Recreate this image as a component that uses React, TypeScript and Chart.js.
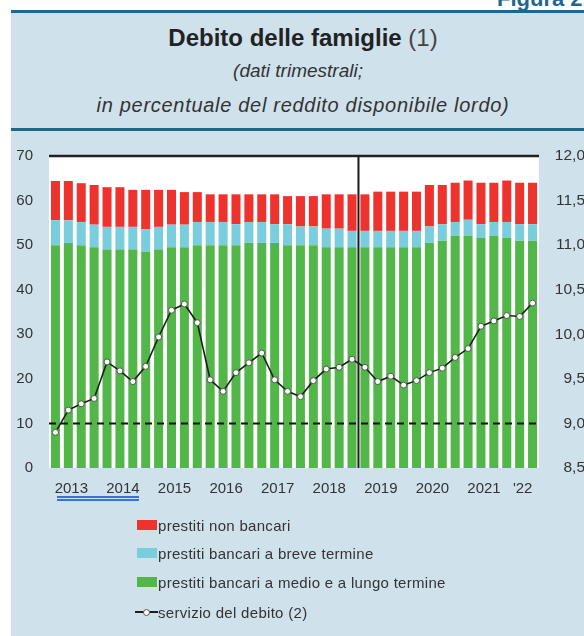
import React, { useEffect, useRef } from 'react';
import { Chart, registerables } from 'chart.js';

Chart.register(...registerables);

// ---------- DATA ----------
const quarters = [
  '2013 T1', '2013 T2', '2013 T3', '2013 T4',
  '2014 T1', '2014 T2', '2014 T3', '2014 T4',
  '2015 T1', '2015 T2', '2015 T3', '2015 T4',
  '2016 T1', '2016 T2', '2016 T3', '2016 T4',
  '2017 T1', '2017 T2', '2017 T3', '2017 T4',
  '2018 T1', '2018 T2', '2018 T3', '2018 T4',
  '2019 T1', '2019 T2', '2019 T3', '2019 T4',
  '2020 T1', '2020 T2', '2020 T3', '2020 T4',
  '2021 T1', '2021 T2', '2021 T3', '2021 T4',
  '2022 T1', '2022 T2',
];

// index of the quarter under which each year label is written
const yearTickIndex = [1, 5, 9, 13, 17, 21, 25, 29, 33, 36];
const yearTickLabels = ['2013', '2014', '2015', '2016', '2017', '2018', '2019', '2020', '2021', "'22"];

// prestiti bancari a medio e a lungo termine
const longTermBankLoans = [
  50.0, 50.5, 50.0, 49.5, 49.0, 49.0, 49.0, 48.5, 49.0, 49.5,
  49.5, 50.0, 50.0, 50.0, 50.0, 50.5, 50.5, 50.5, 50.0, 50.0,
  50.0, 49.5, 49.5, 49.5, 49.5, 49.5, 49.5, 49.5, 49.5, 50.5,
  51.0, 52.1, 52.1, 51.6, 52.1, 51.6, 51.0, 51.0,
];
// prestiti bancari a breve termine
const shortTermBankLoans = [
  5.6, 5.1, 5.2, 5.1, 5.1, 5.1, 5.1, 5.1, 5.1, 5.1,
  5.1, 5.2, 5.2, 5.2, 4.7, 4.7, 4.7, 4.2, 4.7, 4.2,
  4.2, 4.2, 4.2, 3.7, 3.7, 3.7, 3.7, 3.7, 3.7, 3.7,
  3.7, 3.1, 3.6, 3.1, 3.1, 3.6, 3.7, 3.7,
];
// prestiti non bancari
const nonBankLoans = [
  8.8, 8.8, 8.7, 8.9, 8.9, 8.9, 8.3, 8.8, 8.3, 7.8,
  7.3, 6.7, 6.2, 6.2, 6.7, 6.2, 6.2, 6.7, 6.3, 6.8,
  6.8, 7.7, 7.7, 8.2, 8.2, 8.8, 8.8, 8.8, 8.8, 9.3,
  8.8, 8.8, 8.8, 9.3, 8.8, 9.3, 9.3, 9.3,
];
// servizio del debito (scala di destra)
const debtService = [
  8.90, 9.15, 9.22, 9.28, 9.69, 9.59, 9.47, 9.64, 9.97, 10.27,
  10.34, 10.13, 9.49, 9.36, 9.57, 9.68, 9.79, 9.49, 9.36, 9.30,
  9.48, 9.61, 9.63, 9.72, 9.63, 9.47, 9.53, 9.43, 9.48, 9.57,
  9.62, 9.74, 9.84, 10.09, 10.15, 10.21, 10.20, 10.35,
];

const referenceLevel = 10; // dashed line, left scale
const breakIndex = 24; // vertical line before 2019 T1

const leftTicks = [0, 10, 20, 30, 40, 50, 60, 70];
const rightTicks = [8.5, 9.0, 9.5, 10.0, 10.5, 11.0, 11.5, 12.0];

const seriesNames = {
  red: 'prestiti non bancari',
  blue: 'prestiti bancari a breve termine',
  green: 'prestiti bancari a medio e a lungo termine',
  line: 'servizio del debito (2)',
};

const COLORS = {
  red: '#ee322d',
  blue: '#79cddd',
  green: '#52b748',
  line: '#1e1e1e',
  band: '#1f6690',
  panel: '#cfe1eb',
  text: '#333333',
};

const FONT = '"Liberation Sans", Arial, sans-serif';

const decorPlugin = {
  id: 'decor',
  beforeDraw(chart: any) {
    const { ctx, chartArea: a } = chart;
    ctx.save();
    ctx.fillStyle = '#ffffff';
    ctx.fillRect(a.left, a.top, a.right - a.left, a.bottom - a.top);
    ctx.restore();
  },
  beforeDatasetDraw(chart: any, args: any) {
    if (args.index !== 0) return;
    const { ctx, chartArea: a, scales } = chart;
    const y10 = scales.y.getPixelForValue(referenceLevel);
    ctx.save();
    ctx.strokeStyle = '#111111';
    ctx.lineWidth = 2;
    ctx.setLineDash([7, 5]);
    ctx.beginPath();
    ctx.moveTo(a.left, y10);
    ctx.lineTo(a.right, y10);
    ctx.stroke();
    ctx.setLineDash([]);
    const xv = (scales.x.getPixelForValue(breakIndex - 1) + scales.x.getPixelForValue(breakIndex)) / 2;
    ctx.strokeStyle = '#1a1a1a';
    ctx.lineWidth = 2;
    ctx.beginPath();
    ctx.moveTo(xv, a.top);
    ctx.lineTo(xv, a.bottom);
    ctx.stroke();
    ctx.lineWidth = 2.5;
    ctx.strokeStyle = '#222222';
    ctx.beginPath();
    ctx.moveTo(a.left, a.top);
    ctx.lineTo(a.right, a.top);
    ctx.stroke();
    ctx.restore();
  },
};

function DebtChart() {
  const ref = useRef<HTMLCanvasElement | null>(null);
  useEffect(() => {
    if (!ref.current) return;
    const tickFont = { family: FONT, size: 15 };
    const chart = new Chart(ref.current, {
      type: 'bar',
      data: {
        labels: quarters,
        datasets: [
          {
            type: 'line',
            label: seriesNames.line,
            data: debtService,
            yAxisID: 'y2',
            order: 0,
            borderColor: COLORS.line,
            borderWidth: 1.6,
            pointRadius: 3,
            pointBackgroundColor: '#ffffff',
            pointBorderColor: '#555555',
            pointBorderWidth: 1,
            tension: 0,
          } as any,
          {
            label: seriesNames.green,
            data: longTermBankLoans,
            backgroundColor: COLORS.green,
            yAxisID: 'y',
            order: 1,
            barPercentage: 0.7,
            categoryPercentage: 1,
          },
          {
            label: seriesNames.blue,
            data: shortTermBankLoans,
            backgroundColor: COLORS.blue,
            yAxisID: 'y',
            order: 1,
            barPercentage: 0.7,
            categoryPercentage: 1,
          },
          {
            label: seriesNames.red,
            data: nonBankLoans,
            backgroundColor: COLORS.red,
            yAxisID: 'y',
            order: 1,
            barPercentage: 0.7,
            categoryPercentage: 1,
          },
        ],
      },
      options: {
        animation: false,
        responsive: false,
        maintainAspectRatio: false,
        layout: { padding: { top: 22, right: 0, left: 0, bottom: 0 }, autoPadding: false } as any,
        plugins: { legend: { display: false }, tooltip: { enabled: false }, title: { display: false } },
        scales: {
          x: {
            stacked: true,
            grid: { display: false, drawTicks: false },
            border: { display: false },
            ticks: {
              autoSkip: false,
              maxRotation: 0,
              minRotation: 0,
              padding: 12,
              labelOffset: 3,
              color: COLORS.text,
              font: tickFont,
              callback: (_v: any, i: number) => {
                const k = yearTickIndex.indexOf(i);
                return k >= 0 ? yearTickLabels[k] : '';
              },
            },
            afterFit: (s: any) => { s.height = 30; },
          },
          y: {
            stacked: true,
            position: 'left',
            min: leftTicks[0],
            max: leftTicks[leftTicks.length - 1],
            grid: { display: false, drawTicks: false },
            border: { display: false },
            ticks: { stepSize: 10, padding: 16, color: COLORS.text, font: tickFont },
            afterBuildTicks: (s: any) => { s.ticks = leftTicks.map((v) => ({ value: v })); },
            afterFit: (s: any) => { s.width = 49; },
          },
          y2: {
            position: 'right',
            min: rightTicks[0],
            max: rightTicks[rightTicks.length - 1],
            grid: { display: false, drawTicks: false },
            border: { display: false },
            ticks: {
              crossAlign: 'far',
              color: COLORS.text,
              font: { family: FONT, size: 15.5 },
              callback: (v: any) => Number(v).toFixed(1).replace('.', ','),
            },
            afterBuildTicks: (s: any) => { s.ticks = rightTicks.map((v) => ({ value: v })); },
            afterFit: (s: any) => { s.width = 46; },
          },
        },
      } as any,
      plugins: [decorPlugin],
    });
    return () => chart.destroy();
  }, []);
  return (
    <canvas
      ref={ref}
      width={585}
      height={367}
      style={{ position: 'absolute', left: 0, top: 131, width: 585, height: 367 }}
    />
  );
}

const legendRows = [
  { name: seriesNames.red, color: COLORS.red, kind: 'box', center: 525 },
  { name: seriesNames.blue, color: COLORS.blue, kind: 'box', center: 553 },
  { name: seriesNames.green, color: COLORS.green, kind: 'box', center: 582 },
  { name: seriesNames.line, color: COLORS.line, kind: 'line', center: 612 },
];

export default function App() {
  return (
    <div
      style={{
        position: 'fixed', left: 0, top: 0, width: 584, height: 636,
        overflow: 'hidden', background: '#ffffff', fontFamily: FONT,
      }}
    >
      <div style={{ position: 'absolute', left: 11, top: 10, width: 600, height: 640, background: COLORS.panel }} />
      <div style={{ position: 'absolute', left: 11, top: 10, width: 600, height: 3, background: COLORS.band }} />
      <div style={{ position: 'absolute', left: 11, top: 128, width: 600, height: 3, background: COLORS.band }} />
      <div
        style={{
          position: 'absolute', left: 497, top: -12, fontSize: 22, lineHeight: '22px',
          fontWeight: 'bold', color: COLORS.band, whiteSpace: 'nowrap',
        }}
      >
        Figura 2.1
      </div>
      <div
        style={{
          position: 'absolute', left: 11, top: 26, width: 584, textAlign: 'center',
          fontSize: 24, lineHeight: '24px', color: '#222', whiteSpace: 'nowrap',
        }}
      >
        <span style={{ fontWeight: 'bold' }}>Debito delle famiglie</span>
        <span style={{ color: '#444' }}> (1)</span>
      </div>
      <div
        style={{
          position: 'absolute', left: 11, top: 60.5, width: 574, textAlign: 'center',
          fontSize: 19, lineHeight: '19px', fontStyle: 'italic', color: '#333', whiteSpace: 'nowrap',
        }}
      >
        (dati trimestrali;
      </div>
      <div
        style={{
          position: 'absolute', left: 11, top: 94.5, width: 584, textAlign: 'center',
          fontSize: 20, lineHeight: '20px', fontStyle: 'italic', color: '#333', whiteSpace: 'nowrap',
          letterSpacing: '0.7px',
        }}
      >
        in percentuale del reddito disponibile lordo)
      </div>

      <DebtChart />

      <div style={{ position: 'absolute', left: 57, top: 496, width: 82, height: 1.5, background: '#3a70d8' }} />
      <div style={{ position: 'absolute', left: 57, top: 499, width: 82, height: 1.5, background: '#3a70d8' }} />

      {legendRows.map((r) => (
        <div
          key={r.name}
          style={{
            position: 'absolute', left: 135, top: r.center - 10, height: 20,
            display: 'flex', alignItems: 'center', whiteSpace: 'nowrap',
          }}
        >
          {r.kind === 'box' ? (
            <div style={{ width: 20, height: 10, background: r.color, marginLeft: 2, marginRight: 1 }} />
          ) : (
            <div style={{ position: 'relative', width: 23, height: 10 }}>
              <div style={{ position: 'absolute', left: 0, top: 4, width: 23, height: 2, background: r.color }} />
              <div
                style={{
                  position: 'absolute', left: 8, top: 1.5, width: 5, height: 5, borderRadius: '50%',
                  background: '#fff', border: '1px solid #555',
                }}
              />
            </div>
          )}
          <span style={{ fontSize: 15, letterSpacing: '0.3px', color: '#333' }}>{r.name}</span>
        </div>
      ))}
    </div>
  );
}
